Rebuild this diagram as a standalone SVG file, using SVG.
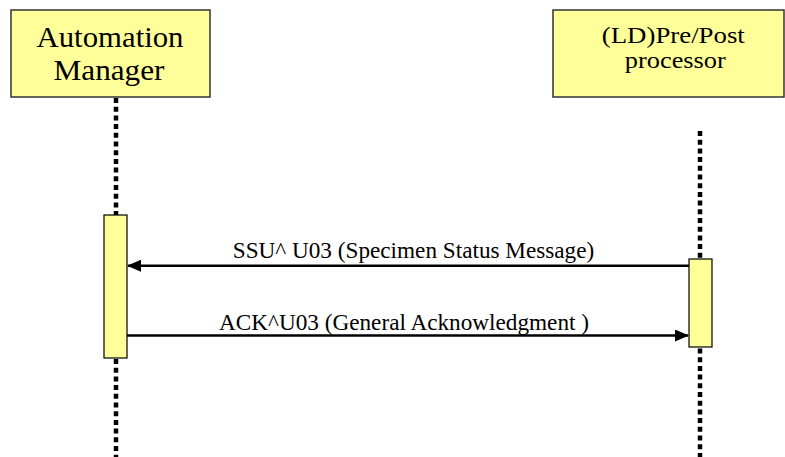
<svg xmlns="http://www.w3.org/2000/svg" width="785" height="457" viewBox="0 0 785 457">
<style>
.box{fill:#FFFF99;stroke:#333;stroke-width:1.5}
.act{fill:#FFFF99;stroke:#000;stroke-width:1.2}
.life{stroke:#000;stroke-width:4.5;stroke-dasharray:5 3.7;fill:none}
.msg{stroke:#000;stroke-width:2.5;fill:none}
.t{font-family:'Liberation Serif','Times New Roman',serif;fill:#000;text-anchor:middle}
.h1{font-size:29px}
.h2{font-size:24px}
.m{font-size:23.5px}
</style>
<defs>
<marker id="ah" markerWidth="14" markerHeight="12" refX="13" refY="6" orient="auto" markerUnits="userSpaceOnUse">
<path d="M0,0 L14,6 L0,12 z" fill="#000"/>
</marker>
</defs>
<g id="connectors">
<line class="life" x1="116" y1="98" x2="116" y2="457"/>
<line class="life" x1="700" y1="131" x2="700" y2="457"/>
</g>
<g id="automation-manager">
<rect class="box" x="11" y="10" width="199" height="87"/>
<text class="t h1" x="110" y="46.5" textLength="147" lengthAdjust="spacingAndGlyphs">Automation</text>
<text class="t h1" x="109" y="80" textLength="111" lengthAdjust="spacingAndGlyphs">Manager</text>
</g>
<g id="preprocessor">
<rect class="box" x="553" y="10" width="231" height="87"/>
<text class="t h2" x="673.3" y="43.3" textLength="143" lengthAdjust="spacingAndGlyphs">(LD)Pre/Post</text>
<text class="t h2" x="675.3" y="68.3" textLength="101" lengthAdjust="spacingAndGlyphs">processor</text>
</g>
<g id="am-activation">
<rect class="act" x="104" y="215" width="23" height="143"/>
</g>
<g id="pp-activation">
<rect class="act" x="689" y="259" width="23" height="88"/>
</g>
<g id="messages">
<line class="msg" x1="689" y1="265.7" x2="128" y2="265.7" marker-end="url(#ah)"/>
<text class="t m" x="413.5" y="258.3" textLength="361.5" lengthAdjust="spacingAndGlyphs">SSU^ U03 (Specimen Status Message)</text>
<line class="msg" x1="127" y1="335.5" x2="688" y2="335.5" marker-end="url(#ah)"/>
<text class="t m" x="404" y="329.5" textLength="370" lengthAdjust="spacingAndGlyphs">ACK^U03 (General Acknowledgment )</text>
</g>
</svg>
